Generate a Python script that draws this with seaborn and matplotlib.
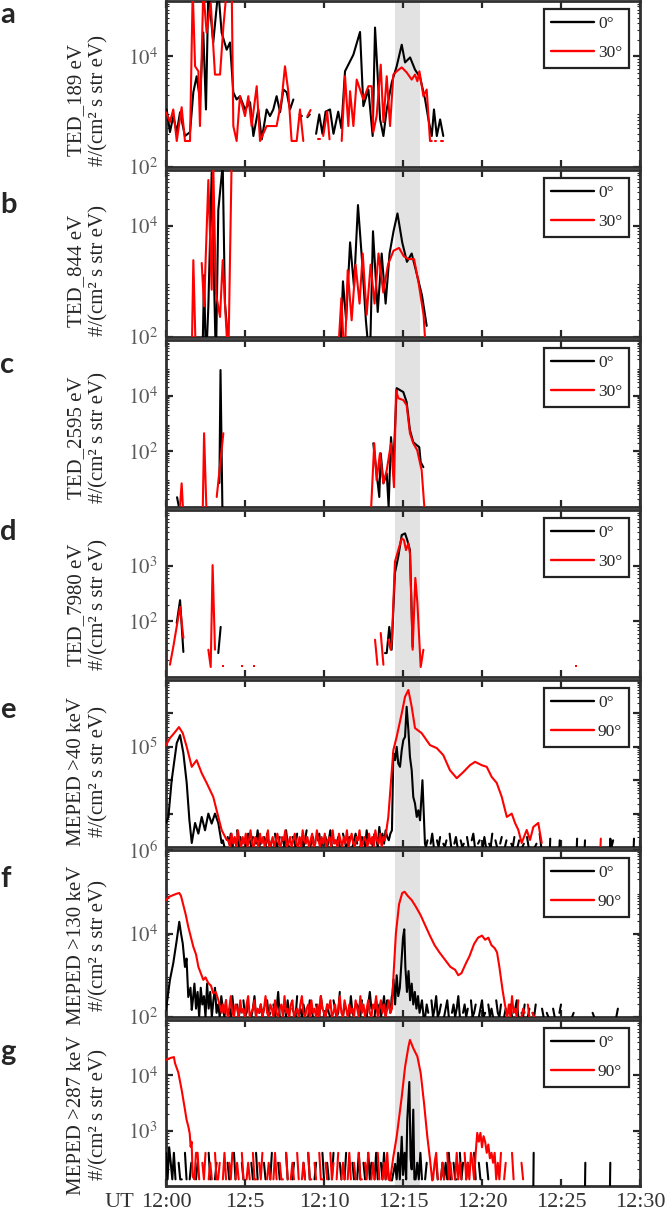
import numpy as np
import pandas as pd
import matplotlib.pyplot as plt
import seaborn as sns
from matplotlib.lines import Line2D
from matplotlib.ticker import LogLocator, MultipleLocator, NullFormatter

nan = np.nan

# all series: (minutes after 12:00 UT, log10 flux); nan = data gap
# ---- a: TED 189 eV
a_0 = [(0.04,3.04),(0.25,2.63),(0.46,2.92),(0.68,2.63),(0.89,2.99),(1.2,2.56),(1.52,2.63),(1.73,3.35),(1.94,3.64),(2.15,3.22),
       (2.36,4.43),(2.53,3.04),(2.68,5.2),(2.99,4.25),(3.31,5.2),(3.52,4.43),(3.84,4.12),(4.05,4.25),(4.26,3.35),(4.47,3.22),
       (4.68,3.28),(5.0,3.04),(5.32,3.17),(5.53,2.56),(5.84,3.04),(6.06,2.5),(6.37,3.04),(6.58,2.92),(6.79,3.04),(7.0,3.28),
       (7.22,2.99),(7.43,3.4),(7.64,3.35),(7.85,3.04),(8.06,3.22),(8.2,nan),(8.45,2.95),(8.6,2.92),(8.75,nan),(8.95,2.9),
       (9.1,2.95),(9.3,nan),(9.5,2.6),(9.7,2.95),(9.9,2.6),(10.1,3.0),(10.38,3.04),(10.6,2.6),(10.9,3.0),(11.1,2.7),
       (11.33,3.73),(11.86,4.03),(12.28,4.44),(12.49,3.1),(12.81,3.4),(13.08,2.56),(13.23,4.52),(13.55,2.86),(13.76,2.56),(13.97,3.04),
       (14.29,3.53),(14.6,3.82),(14.92,4.21),(15.13,3.89),(15.45,3.98),(15.76,3.76),(16.08,3.62),(16.4,3.22),(16.61,2.86),(16.82,2.56),
       (16.96,3.04),(17.14,2.56),(17.35,2.86),(17.55,2.56)]
a_30 = [(0.0,2.99),(0.25,2.81),(0.46,3.04),(0.68,2.47),(0.99,3.08),(1.2,2.47),(1.52,2.47),(1.69,5.2),(1.84,3.82),(2.05,3.73),
        (2.15,2.74),(2.36,5.2),(2.57,4.43),(2.83,4.96),(3.1,3.67),(3.42,3.67),(3.63,4.53),(3.84,5.2),(4.16,5.2),(4.26,2.74),
        (4.47,2.47),(4.68,3.28),(5.0,2.92),(5.21,3.28),(5.42,2.74),(5.74,3.46),(5.95,2.47),(6.37,2.74),(7.0,2.74),(7.32,3.22),
        (7.53,3.82),(7.74,3.37),(7.95,2.47),(8.27,2.47),(8.48,3.04),(8.69,2.47),(8.8,nan),(8.95,2.92),(9.15,3.03),(9.25,nan),
        (9.6,2.5),(9.75,2.5),(9.85,nan),(9.95,2.56),(10.2,3.0),(10.35,2.5),(10.5,nan),(11.12,2.47),(11.33,3.64),(11.54,2.74),
        (11.65,3.37),(11.86,2.74),(12.07,3.58),(12.49,3.22),(12.81,3.46),(13.02,3.46),(13.12,2.63),(13.33,2.92),(13.59,3.85),(13.76,2.81),
        (13.97,3.64),(14.18,2.74),(14.39,3.67),(14.6,3.73),(14.92,3.8),(15.23,3.71),(15.55,3.58),(15.76,3.67),(15.91,3.55),(16.04,3.73),
        (16.29,3.28),(16.5,3.4),(16.71,2.47),(16.82,2.47),(16.9,nan),(17.0,2.47),(17.1,2.47),(17.2,nan),(17.4,2.47),(17.5,2.47)]

# ---- b: TED 844 eV
b_0 = [(2.3,1.5),(2.41,3.11),(2.53,1.5),(2.68,2.55),(2.89,4.95),(3.16,1.5),(3.31,4.28),(3.59,5.1),(3.73,2.61),(4.05,1.5),
       (4.1,nan),(11.0,1.5),(11.2,3.0),(11.4,2.3),(11.65,3.7),(11.9,2.9),(12.15,4.37),(12.4,3.4),(12.65,2.3),(12.9,1.5),
       (13.1,3.9),(13.4,2.45),(13.65,3.5),(13.9,2.6),(14.15,3.5),(14.4,3.9),(14.65,4.22),(14.95,3.7),(15.25,3.35),(15.55,3.5),
       (15.9,3.1),(16.2,2.75),(16.5,2.2)]
b_30 = [(1.62,1.5),(1.73,3.38),(1.9,1.5),(2.0,nan),(2.26,3.33),(2.41,2.55),(2.68,4.82),(2.89,2.85),(2.99,5.1),(3.16,2.79),
        (3.42,2.36),(3.59,3.38),(3.94,1.5),(4.15,5.1),(4.2,nan),(10.85,1.5),(11.1,2.7),(11.3,1.5),(11.5,3.2),(11.75,2.3),
        (12.0,3.3),(12.25,2.6),(12.45,3.5),(12.7,2.4),(12.95,3.3),(13.2,2.6),(13.45,3.5),(13.75,2.8),(14.05,3.3),(14.4,3.55),
        (14.75,3.6),(15.05,3.45),(15.35,3.4),(15.7,3.4),(16.0,2.95),(16.3,2.4),(16.5,1.5)]

# ---- c: TED 2595 eV
c_0 = [(0.7,0.35),(0.8,0.05),(0.85,nan),(3.38,0.86),(3.45,4.92),(3.58,-0.5),(3.6,nan),
       (13.12,2.29),(13.33,1.21),(13.5,0.36),(13.59,1.93),(13.76,0.85),(13.97,1.21),(14.09,0.0),(14.24,2.51),(14.39,1.43),
       (14.6,4.27),(14.81,4.2),(15.02,4.13),(15.23,3.77),(15.44,2.76),(15.65,2.33),(15.87,2.22),(16.03,2.15),(16.12,1.61),(16.29,1.43)]
c_30 = [(0.89,0.06),(0.99,0.85),(1.1,-0.3),(1.15,nan),(2.32,-0.3),(2.41,2.65),(2.57,-0.3),(2.6,nan),(3.21,0.36),(3.63,2.65),
        (3.7,nan),(12.96,-0.3),(13.18,2.29),(13.33,0.96),(13.54,1.93),(13.76,0.85),(13.97,1.32),(14.24,2.29),(14.43,0.71),(14.56,4.2),
        (14.7,3.91),(15.02,3.84),(15.23,3.66),(15.44,2.65),(15.65,2.29),(15.9,2.04),(16.08,1.57),(16.18,1.32),(16.39,-0.3)]

# ---- d: TED 7980 eV
d_0 = [(0.68,1.97),(0.89,2.38),(1.1,1.45),(1.15,nan),(3.31,1.43),(3.46,1.9),(3.5,nan),
       (13.86,1.43),(13.97,1.43),(14.13,1.9),(14.28,1.49),(14.49,2.87),(14.7,3.16),(14.92,3.55),(15.13,3.58),(15.27,3.46),
       (15.44,3.28),(15.61,1.54)]
d_30 = [(0.25,1.22),(0.46,1.54),(0.89,2.26),(1.1,1.7),(1.15,nan),(2.68,1.49),(2.83,1.18),(2.95,3.01),(3.1,1.49),(3.15,nan),
        (13.23,1.67),(13.38,1.22),(13.45,nan),(13.59,1.79),(13.76,1.22),(13.85,nan),(14.07,1.67),(14.22,1.49),(14.3,1.67),(14.49,3.07),
        (14.7,3.28),(14.92,3.49),(15.06,3.46),(15.19,3.28),(15.34,3.4),(15.44,3.22),(15.61,1.49),(15.78,2.78),(15.91,2.33),(16.12,1.18),
        (16.29,1.49)]
d_30_dots = [(3.59,1.2),(4.79,1.2),(5.57,1.2),(25.95,1.2)]

# ---- e: MEPED >40 keV
e_90_burst1 = [(0.0,5.05),(0.25,5.26),(0.57,5.44),(0.82,5.59),(1.06,5.41),(1.31,5.0),(1.63,4.4),(1.94,4.6),(2.26,4.21),(2.57,3.92),
               (2.99,3.5),(3.31,2.9),(3.52,2.51),(3.84,2.21)]
e_90_floor1 = [2.2,2.0,2.4,2.1,2.3,2.0,2.5,2.2,2.0,2.3, 2.1,2.4,2.0,2.2,2.5,2.1,2.0,2.3,2.2,2.0,
               2.4,2.1,2.3,2.0,2.2,2.5,2.0,2.1,2.3,2.0, 2.2,2.4,2.1,2.0,2.3,2.2,2.5,2.0,2.1,2.3,
               2.0,2.2,2.4,2.1,2.0,2.3,2.0,2.5,2.2,2.1, 2.3,2.0,2.2,2.4,2.0,2.1,2.5,2.2,2.0,2.3,
               2.1,2.4,2.0,2.2,2.3,2.0,2.5,2.1,2.2,2.0, 2.4,2.2,2.0,2.3,2.1,2.5,2.0,2.2,2.4,2.1,
               2.0,2.3,2.2,2.5,2.0,2.1,2.3,2.2,2.0,2.4, 2.1,2.3,2.0,2.5,2.2,2.1,2.4,2.0,2.3,2.2,2.5]
e_90_burst2 = [(14.07,2.9),(14.39,4.9),(14.6,5.3),(14.92,6.0),(15.13,6.5),(15.34,6.7),(15.55,6.2),(15.76,5.56),(16.18,5.41),(16.71,5.05),
               (17.14,4.96),(17.55,4.75),(17.97,4.3),(18.4,4.06),(18.81,4.24),(19.24,4.45),(19.56,4.55),(19.98,4.45),(20.3,4.4),(20.61,4.1),
               (20.93,3.92),(21.25,3.5),(21.57,2.9),(21.88,3.0),(22.09,2.72),(22.3,2.51),(22.51,2.12),(22.83,2.51),(23.04,2.21),(23.25,2.6),
               (23.56,2.72),(23.78,2.12)]
e_0_burst1 = [(0.0,2.72),(0.15,2.9),(0.36,4.0),(0.68,5.11),(0.89,5.35),(1.1,4.81),(1.31,3.92),(1.48,2.81),(1.63,2.12),(1.84,2.72),
              (2.05,2.4),(2.26,2.9),(2.47,2.5),(2.68,3.0),(2.89,2.7),(3.1,3.0),(3.31,2.72),(3.52,2.12)]
e_0_floor1 = [2.2,2.0,nan,2.3,2.1,2.4,2.0,2.2,nan,2.5, 2.0,2.3,2.1,nan,2.2,2.0,2.4,2.2,2.0,2.3,
              nan,2.1,2.5,2.0,2.2,nan,2.3,2.0,2.4,2.1, 2.0,2.2,nan,2.4,2.0,2.1,2.3,nan,2.2,2.0,
              2.5,2.1,2.0,nan,2.3,2.2,2.0,2.4,nan,2.1, 2.3,2.0,2.2,2.5,nan,2.0,2.1,2.3,2.0,nan,
              2.2,2.4,2.0,2.1,nan,2.3,2.0,2.2,2.5,2.0, nan,2.2,2.1,2.3,2.0,nan,2.4,2.2,2.0,2.1,
              2.3,nan,2.0,2.2,2.4,2.1,nan,2.0,2.3,2.2, 2.0,2.5,2.1,nan,2.2,2.0,2.4,2.3,2.0,2.6,
              2.2,2.4,2.1,2.5,2.3,2.2,2.4]
e_0_burst2 = [(14.3,2.5),(14.39,4.81),(14.5,4.6),(14.6,5.0),(14.7,4.5),(14.81,4.4),(14.92,4.9),(15.02,5.2),(15.13,5.3),(15.23,6.2),
              (15.34,5.5),(15.44,4.7),(15.55,4.3),(15.65,3.5),(15.76,3.3),(15.87,2.9),(15.97,3.1),(16.08,2.8),(16.23,4.0),(16.39,2.1)]
e_0_floor2 = [2.0,2.2,nan,2.1,2.4,2.0,nan,2.2,2.0,2.3, nan,2.1,2.0,2.2,nan,2.4,2.0,nan,2.1,2.3,
              2.0,nan,2.2,2.0,2.1,nan,2.3,2.0,nan,2.2, 2.4,2.0,nan,2.1,2.2,nan,2.0,2.3,2.0,nan,
              2.1,2.0,2.4,nan,2.2,2.0,nan,2.1,2.3,nan, 2.0,2.2,nan,nan,2.1,2.0,2.3,nan,2.0,2.2,
              nan,2.0,2.1,nan,2.3,2.0,nan,2.2,nan,2.0, 2.1,nan,2.4,2.0,nan,2.2]
e_0_sparse = [(24.3,2.0),(24.32,2.25),(24.4,nan),(24.9,2.0),(24.92,2.2),(25.0,nan),(26.0,2.0),(26.02,2.25),(26.1,nan),
              (26.5,2.0),(26.52,2.2),(26.6,nan),(28.1,2.0),(28.12,2.25),(28.2,2.0),(28.3,2.2),(28.4,nan),(29.6,2.0),(29.62,2.25)]
e_90_sparse = [(27.5,2.0),(27.52,2.25)]

# ---- f: MEPED >130 keV
f_90_burst1 = [(0.0,4.8),(0.2,4.88),(0.46,4.92),(0.65,4.95),(0.84,4.97),(0.95,4.9),(1.1,4.68),(1.25,4.45),(1.41,4.16),(1.55,3.95),
               (1.73,3.68),(1.9,3.5),(2.05,3.2),(2.2,3.05),(2.36,2.89),(2.5,2.95),(2.68,2.81),(2.85,2.75),(2.99,2.57),(3.15,2.6),
               (3.31,2.41),(3.45,2.2),(3.52,2.1)]
f_90_floor1 = [2.3,2.1,2.4,2.0,2.2,2.5,2.1,2.0,2.3,2.2, 2.0,2.4,2.1,2.2,2.0,2.3,2.5,2.0,2.1,2.2,
               2.4,2.0,2.2,2.1,2.3,2.0,2.2,2.5,2.1,2.0, 2.3,2.2,2.0,2.4,2.1,2.0,2.2,2.3,2.0,2.5,
               2.1,2.2,2.0,2.3,2.4,2.0,2.1,2.2,2.0,2.3, 2.5,2.1,2.0,2.2,2.3,2.0,2.4,2.1,2.2,2.0,
               2.3,2.0,2.5,2.2,2.1,2.0,2.3,2.2,2.4,2.0, 2.1,2.3,2.0,2.2,2.5,2.1,2.0,2.4,2.2,2.0,
               2.3,2.1,2.2,2.0,2.4,2.2,2.0,2.5,2.1,2.3, 2.0,2.2,2.4,2.1,2.0,2.3,2.2,2.5,2.0,2.2,
               2.4,2.1,2.3,2.0,2.2,2.4,2.1]
f_90_burst2 = [(14.3,2.2),(14.4,3.0),(14.55,4.0),(14.75,4.7),(14.95,4.97),(15.1,5.0),(15.3,4.9),(15.55,4.8),(15.8,4.65),(16.1,4.45),
               (16.4,4.2),(16.7,3.95),(17.0,3.72),(17.3,3.55),(17.66,3.37),(18.0,3.2),(18.3,3.13),(18.5,3.0),(18.7,3.05),(19.0,3.3),
               (19.2,3.45),(19.5,3.75),(19.75,3.9),(20.0,3.95),(20.2,3.85),(20.4,3.9),(20.6,3.72),(20.8,3.65),(20.95,3.55),(21.1,3.2),
               (21.3,2.65),(21.45,2.3),(21.6,2.0)]
f_90_floor2 = [2.3,2.0,2.5,2.1,2.2,2.0,2.4,nan,2.0,2.2, 2.1,nan,2.3,2.0,nan,2.1,2.0,nan,nan,2.2]
f_0_burst1 = [(0.0,2.17),(0.25,2.89),(0.46,3.29),(0.68,3.84),(0.84,4.28),(0.95,4.0),(1.06,3.76),(1.2,3.2),(1.3,3.4),(1.41,2.48),
              (1.55,2.7),(1.63,2.17)]
f_0_floor1 = [2.4,2.8,2.2,2.6,2.0,2.7,2.3,2.5,2.0,2.8, 2.2,2.6,2.0,2.4,2.7,2.1,2.3,2.0,2.5,2.2,
              2.0,2.4,nan,2.2,2.0,2.5,2.1,nan,2.3,2.0, 2.2,nan,2.4,2.0,2.1,2.3,nan,2.0,2.2,2.5,
              2.0,nan,2.1,2.3,2.0,2.2,nan,2.4,2.0,2.1, nan,2.3,2.0,2.2,2.6,2.0,nan,2.1,2.3,2.0,
              2.4,2.0,nan,2.2,2.1,2.0,2.5,nan,2.2,2.0, 2.3,2.1,nan,2.0,2.4,2.2,2.0,nan,2.3,2.1,
              2.0,2.5,2.2,nan,2.0,2.3,2.1,2.0,nan,2.4, 2.2,2.0,2.1,2.6,nan,2.0,2.3,2.2,nan,2.0,
              2.5,2.1,2.0,nan,2.3,2.2,2.0,2.4,nan,2.1, 2.0,2.3,2.6,2.2,nan,2.0,2.4,2.1,2.3,2.0,
              2.2,2.5,2.0,2.4,2.3,2.1,2.5]
f_0_burst2 = [(14.3,2.4),(14.4,2.9),(14.5,2.3),(14.6,3.0),(14.7,2.5),(14.8,2.7),(14.9,3.3),(15.0,3.9),(15.08,4.1),(15.15,3.2),
              (15.25,2.6),(15.35,3.1),(15.45,2.4),(15.55,2.8),(15.65,2.3),(15.75,2.6),(15.85,2.2),(15.95,2.5),(16.05,2.1),(16.2,2.4),
              (16.3,2.0)]
f_0_floor2 = [2.0,2.3,2.1,nan,2.4,2.0,2.2,2.5,2.0,2.1, 2.3,nan,2.0,2.2,2.4,2.0,nan,2.1,2.3,2.0,
              2.2,2.5,2.0,nan,2.1,2.3,2.0,2.2,nan,2.4, 2.0,2.1,2.3,nan,2.0,2.2,2.4,2.0,2.1,nan,
              2.3,2.0,2.2,2.0,nan,2.4,2.1,2.0,2.3,nan, 2.0,2.2,nan,2.1,2.3,2.0,nan,2.2,2.4,2.0,
              nan,2.1,2.0,2.3,nan,2.0,2.2,nan,2.1,2.0, 2.3,nan,2.0,nan,2.2,2.0,nan,2.1,2.0,nan,
              nan,2.2,2.0,nan,nan,2.1,2.3,nan,2.0,nan, 2.2,nan,nan,2.0,2.1,nan,2.3,nan,nan,2.0,
              nan,2.2,nan,nan,2.0,nan,2.1,2.0,nan,nan, 2.3,nan,nan,2.0,nan,2.2,nan,nan,2.1,nan,
              nan,2.0,2.2,nan,nan,nan,2.1,nan,2.3,nan, nan,2.0,nan,2.2,nan,nan]

# ---- g: MEPED >287 keV
g_90_burst1 = [(0.0,4.28),(0.15,4.3),(0.36,4.32),(0.5,4.33),(0.57,4.22),(0.78,4.05),(0.99,3.74),(1.1,3.55),(1.2,3.38),(1.3,3.2),
               (1.41,3.08),(1.5,2.95),(1.56,2.71),(1.62,2.8),(1.69,2.17)]
g_90_floor1 = [2.12,2.6,2.6,2.12,nan,2.42,2.12,2.6,nan,2.12, 2.42,2.12,nan,2.6,2.12,2.12,2.42,nan,2.12,2.6,
               2.12,nan,2.42,2.12,2.6,nan,2.12,2.42,2.12,nan, 2.6,2.12,nan,2.12,2.42,2.12,nan,2.6,2.12,2.12,
               nan,2.42,2.12,2.6,nan,nan,2.12,2.42,2.12,nan, 2.12,2.6,2.12,nan,2.42,2.12,2.12,nan,2.6,2.12,
               nan,2.12,2.42,2.12,nan,2.6,2.12,nan,2.12,2.42, 2.12,nan,2.6,2.12,2.12,nan,2.42,2.12,nan,2.6,
               2.12,2.12,nan,2.42,2.12,nan,2.6,2.12,2.42,nan, 2.12,2.6,nan,2.12,2.42,2.12,nan,2.12,2.6,2.12,
               nan,2.42,2.12,nan,2.6,2.12,2.12,nan,2.42,2.12, 2.6,nan,2.12,2.42,2.12,nan,2.6,2.12,nan,2.12,
               2.42,2.12,2.6,2.12]
g_90_burst2 = [(14.18,2.1),(14.39,2.53),(14.6,2.89),(14.92,3.61),(15.13,4.15),(15.34,4.51),(15.44,4.64),(15.65,4.49),(15.91,4.34),(16.12,4.04),
               (16.33,3.5),(16.54,2.89),(16.71,2.48),(16.85,2.1)]
g_90_floor2 = [2.12,2.42,2.6,2.12,nan,2.12,2.42,2.12,nan,2.6, 2.12,2.42,2.12,nan,2.12,2.6,2.12,2.42,2.12,nan,
               2.6,2.12,2.42,2.12,2.6,2.42,2.12,2.6,2.96,2.8, 2.96,2.7,2.9,2.8,2.6,2.75,2.5,2.6,2.42,2.6,
               2.12,2.42,2.12,2.6,nan,2.12,2.42,nan,2.12,nan, 2.6,2.12,nan,2.12,nan,nan,2.42,2.12,nan,nan,
               nan,2.12,nan,nan,2.42,nan,nan,2.12,nan,nan, nan,2.12]
g_0_floor1 = [2.6,2.12,2.7,2.42,2.12,2.6,2.12,nan,2.42,2.12, 2.12,nan,2.6,2.12,nan,2.12,2.42,nan,nan,2.12,
              2.42,nan,2.12,nan,nan,2.12,nan,2.6,2.12,nan, nan,2.12,2.42,nan,2.12,nan,nan,2.12,nan,2.42,
              2.12,nan,nan,2.6,2.12,nan,2.12,nan,2.42,2.12, nan,2.12,nan,nan,2.42,2.12,nan,2.6,2.12,nan,
              2.12,nan,2.42,2.12,nan,nan,2.12,2.6,nan,2.12, nan,2.42,2.12,nan,2.12,nan,2.6,2.12,nan,nan,
              2.12,2.42,nan,2.12,nan,2.12,nan,2.42,2.12,nan, 2.6,2.12,nan,nan,2.12,2.42,nan,2.12,nan,2.6,
              2.12,nan,2.42,2.12,nan,2.12,2.6,nan,2.12,nan, 2.42,2.12,nan,2.12,2.6,nan,2.12,nan,2.42,2.12,
              nan,2.12,2.6,2.12,nan,2.42,2.12,nan,2.6,2.12, 2.42,nan,2.12,2.6,2.12,nan,2.42,2.12,2.6,2.12,
              2.42,2.12]
g_0_burst2 = [(14.3,2.1),(14.5,2.4),(14.6,2.12),(14.7,2.6),(14.8,2.12),(14.92,2.89),(15.0,2.2),(15.1,2.6),(15.2,2.12),(15.27,3.2),
              (15.4,3.88),(15.48,2.5),(15.55,2.3),(15.65,3.38),(15.72,2.12)]
g_0_floor2 = [2.12,2.42,2.12,2.6,2.12,nan,2.12,2.42,nan,2.12, nan,2.12,nan,2.42,2.12,nan,2.12,2.42,2.12,2.42,
              2.12,2.6,2.12,nan,2.42,2.12,2.12,nan,2.6,2.12, 2.42,nan,2.12,2.42,nan,2.12,nan,2.6,2.12,nan,
              2.42,2.12,nan,2.12,nan,2.42,2.12,nan,nan,2.12, nan,2.42,nan,nan,2.12,nan,2.42,nan,nan,2.12,
              nan,nan,2.12,nan,2.42,nan,2.12,nan]
g_0_sparse = [(23.25,2.0),(23.27,2.6),(23.35,nan),(26.52,2.0),(26.54,2.42),(26.6,nan),(28.1,2.0),(28.12,2.42)]

time_labels = ["12:00", "12:5", "12:10", "12:15", "12:20", "12:25", "12:30"]
channel_names = ["TED_189 eV", "TED_844 eV", "TED_2595 eV", "TED_7980 eV",
                 "MEPED >40 keV", "MEPED >130 keV", "MEPED >287 keV"]
panel_tags = ["a", "b", "c", "d", "e", "f", "g"]
angle_labels = [["0°", "30°"]] * 4 + [["0°", "90°"]] * 3
y_limits = [(1e2, 1e5), (1e2, 1e5), (1e0, 1e6), (1e1, 1e4), (1e2, 1e7), (1e2, 1e6), (1e2, 1e5)]
y_ticks = [[1e2, 1e4], [1e2, 1e4], [1e2, 1e4], [1e2, 1e3], [1e3, 1e4, 1e5, 1e6], [1e2, 1e4, 1e6], [1e3, 1e4]]
y_ticklabels = [["$10^2$", "$10^4$"], ["$10^2$", "$10^4$"], ["$10^2$", "$10^4$"], ["$10^2$", "$10^3$"],
                ["", "", "$10^5$", ""], ["$10^2$", "$10^4$", "$10^6$"], ["$10^3$", "$10^4$"]]
event_span = (14.5, 16.08)


def floor_pts(start, vals, step=0.1):
    return [(round(start + step * i, 2), v) for i, v in enumerate(vals)]


series_0 = [a_0, b_0, c_0, d_0,
            e_0_burst1 + floor_pts(3.6, e_0_floor1) + e_0_burst2 + floor_pts(16.45, e_0_floor2) + [(24.0, nan)] + e_0_sparse,
            f_0_burst1 + floor_pts(1.7, f_0_floor1) + f_0_burst2 + floor_pts(16.4, f_0_floor2),
            floor_pts(0.0, g_0_floor1) + g_0_burst2 + floor_pts(15.8, g_0_floor2) + [(22.6, nan)] + g_0_sparse]
series_x = [a_30, b_30, c_30, d_30,
            e_90_burst1 + floor_pts(3.95, e_90_floor1) + e_90_burst2 + [(24.0, nan)] + e_90_sparse,
            f_90_burst1 + floor_pts(3.6, f_90_floor1) + f_90_burst2 + floor_pts(21.7, f_90_floor2),
            g_90_burst1 + floor_pts(1.8, g_90_floor1) + g_90_burst2 + floor_pts(16.9, g_90_floor2)]


def to_frame(pts):
    df = pd.DataFrame(pts, columns=["t", "lg"])
    df["seg"] = df["lg"].isna().cumsum()
    df = df.dropna()
    df["flux"] = 10 ** df["lg"]
    return df


sns.set_style("ticks")
plt.rcParams["font.family"] = ["Liberation Serif", "DejaVu Serif"]
plt.rcParams["mathtext.fontset"] = "stix"

W, H = 665, 1211
tops = [1, 170, 340, 510, 680, 850, 1020]
bots = [167, 337, 507, 677, 847, 1017, 1186]
label_shift = [16, 17, 14, 11, 8, 12, 12]
tag_base = [23, 213, 373, 540, 718, 887, 1060]
x0, x1 = 166, 640

fig = plt.figure(figsize=(W / 100, H / 100), dpi=100)

for i in range(7):
    ax = fig.add_axes([x0 / W, 1 - bots[i] / H, (x1 - x0) / W, (bots[i] - tops[i]) / H])
    ax.set_yscale("log")
    ax.axvspan(*event_span, color="#e2e2e2", lw=0, zorder=0)
    for pts, col in [(series_0[i], "black"), (series_x[i], "red")]:
        sns.lineplot(data=to_frame(pts), x="t", y="flux", units="seg", estimator=None, sort=False,
                     color=col, lw=1.5, ax=ax, legend=False, zorder=3)
    if i == 3:
        dots = to_frame(d_30_dots)
        sns.scatterplot(data=dots, x="t", y="flux", color="red", marker="s", s=4, lw=0, ax=ax, zorder=3)

    ax.set_xlim(0, 30)
    ax.set_ylim(*y_limits[i])
    ax.set_xlabel("")
    ax.set_ylabel("")
    ax.xaxis.set_major_locator(MultipleLocator(5))
    ax.set_yticks(y_ticks[i], y_ticklabels[i])
    ax.yaxis.set_minor_locator(LogLocator(base=10, subs=np.arange(2, 10), numticks=30))
    ax.yaxis.set_minor_formatter(NullFormatter())
    ax.tick_params(axis="both", which="both", direction="in", top=True, right=True)
    ax.tick_params(axis="both", which="major", length=5, width=1.6)
    ax.tick_params(axis="y", which="minor", length=2.5, width=0.8)
    ax.tick_params(axis="y", labelsize=15, labelcolor="#5a5a5a", pad=6)
    if i == 6:
        ax.set_xticks(range(0, 31, 5), time_labels)
        ax.tick_params(axis="x", labelsize=16, labelcolor="#333333", pad=5)
    else:
        ax.set_xticklabels([])
    for sp in ax.spines.values():
        sp.set_linewidth(2)
        sp.set_color("#303030")

    handles = [Line2D([], [], color="black", lw=1.7), Line2D([], [], color="red", lw=1.7)]
    leg = ax.legend(handles, angle_labels[i], loc="upper right", bbox_to_anchor=(0.977, 0.952),
                    borderaxespad=0, fontsize=12.5, handlelength=2.5, handletextpad=0.2,
                    labelspacing=0.75, borderpad=0.4, fancybox=False, framealpha=1)
    leg.get_frame().set_edgecolor("#222222")
    leg.get_frame().set_linewidth(1.6)

    ax.text(-0.1656, 0.5 - label_shift[i] / (bots[i] - tops[i]),
            channel_names[i] + "\n#/(cm² s str eV)", transform=ax.transAxes,
            rotation=90, ha="center", va="center", multialignment="center", fontsize=15)
    fig.text(0.0, 1 - tag_base[i] / H, panel_tags[i], fontsize=21, fontweight="bold",
             family="Lato", ha="left", va="baseline")

fig.text(119 / W, 1 - 1193 / H, "UT", fontsize=16, color="#333333", ha="center", va="top")

fig.savefig("out.png", dpi=100)
